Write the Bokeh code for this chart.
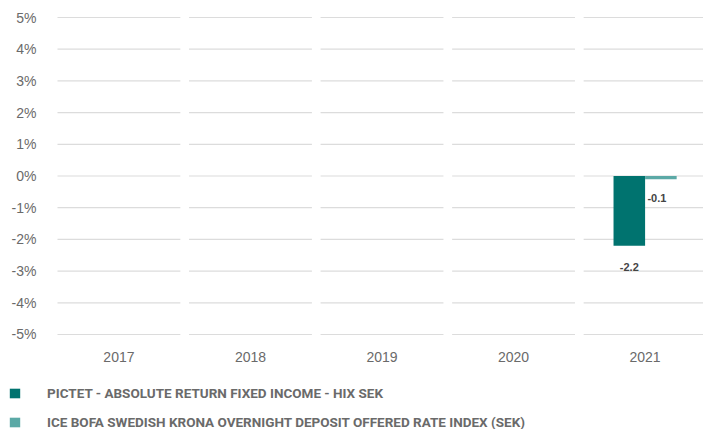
from bokeh.plotting import figure
from bokeh.layouts import column, row
from bokeh.models import ColumnDataSource, FixedTicker, Legend, LegendItem, Range1d
from bokeh.core.properties import value
from bokeh.embed import file_html
from bokeh.resources import INLINE

years = [2017, 2018, 2019, 2020, 2021]
year_labels = ["2017", "2018", "2019", "2020", "2021"]
fund_name = "PICTET - ABSOLUTE RETURN FIXED INCOME - HIX SEK"
bench_name = "ICE BOFA SWEDISH KRONA OVERNIGHT DEPOSIT OFFERED RATE INDEX (SEK)"
fund_values = [None, None, None, None, -2.2]
bench_values = [None, None, None, None, -0.1]
y_ticks = [-5, -4, -3, -2, -1, 0, 1, 2, 3, 4, 5]
y_tick_labels = ["-5%", "-4%", "-3%", "-2%", "-1%", "0%", "1%", "2%", "3%", "4%", "5%"]

DARK = "#00736f"
LIGHT = "#5ba9a6"
TEXT = "#6a6a6a"
GRID = "#dcdcdc"

p = figure(width=703, height=380, output_backend="svg", toolbar_location=None,
           x_range=Range1d(2016.495, 2021.444), y_range=Range1d(-5.19, 5.158),
           min_border_left=52, min_border_right=0, min_border_top=12, min_border_bottom=40)
p.outline_line_color = None
p.xgrid.visible = False
p.ygrid.visible = False

# segmented gridlines, one segment per category
gx0, gx1, gy = [], [], []
for yr in years:
    for t in y_ticks:
        gx0.append(yr - 0.467)
        gx1.append(yr + 0.467)
        gy.append(t)
p.segment(x0=gx0, x1=gx1, y0=gy, y1=gy, line_color=GRID, line_width=1.2)

def build(vals, off):
    xs, tops, labs = [], [], []
    for yr, v in zip(years, vals):
        if v is not None:
            xs.append(yr + off)
            tops.append(v)
            labs.append(f"{v:.1f}")
    return ColumnDataSource(dict(x=xs, top=tops, lab=labs))

s_fund = build(fund_values, -0.12)
s_bench = build(bench_values, 0.12)

p.vbar(x="x", top="top", bottom=0, width=0.24, source=s_fund, fill_color=DARK, line_color=None)
p.vbar(x="x", top="top", bottom=0, width=0.24, source=s_bench, fill_color=LIGHT, line_color=None)

for src, xo, yo in ((s_fund, 0, 21), (s_bench, -4, 19)):
    p.text(x="x", y="top", text="lab", source=src, x_offset=xo, y_offset=yo,
           text_align="center", text_baseline="middle", text_font=value("Liberation Sans"),
           text_font_style="bold", text_font_size="11px", text_color="#444444")

for ax in (p.xaxis[0], p.yaxis[0]):
    ax.axis_line_color = None
    ax.major_tick_line_color = None
    ax.minor_tick_line_color = None
    ax.major_label_text_color = TEXT
    ax.major_label_text_font = "Liberation Sans"
    ax.major_label_text_font_size = "14px"

p.xaxis.ticker = FixedTicker(ticks=years)
p.xaxis.major_label_overrides = {yr: lab for yr, lab in zip(years, year_labels)}
p.xaxis.major_label_standoff = 5
p.yaxis.ticker = FixedTicker(ticks=y_ticks)
p.yaxis.major_label_overrides = {t: lab for t, lab in zip(y_ticks, y_tick_labels)}
p.yaxis.major_label_standoff = 10

# legend strip (its bars sit outside its view; only the legend is visible)
lg = figure(width=703, height=49, output_backend="svg", toolbar_location=None,
            x_axis_location=None, y_axis_location=None, min_border=0,
            x_range=Range1d(0, 1), y_range=Range1d(0, 1))
lg.outline_line_color = None
lg.xgrid.visible = False
lg.ygrid.visible = False
lr_fund = lg.vbar(x="x", top="top", width=0.1, source=s_fund, fill_color=DARK, line_color=None)
lr_bench = lg.vbar(x="x", top="top", width=0.1, source=s_bench, fill_color=LIGHT, line_color=None)
legend = Legend(items=[LegendItem(label=fund_name, renderers=[lr_fund]),
                       LegendItem(label=bench_name, renderers=[lr_bench])],
                location=(8, -1), orientation="vertical",
                glyph_width=13, glyph_height=12, label_height=12, spacing=13,
                label_standoff=26, padding=0, margin=0,
                border_line_color=None, background_fill_alpha=0,
                label_text_font="Roboto", label_text_font_style="bold",
                label_text_font_size="13.5px", label_text_color=TEXT)
lg.add_layout(legend, "center")

open("out.html", "w").write(file_html(column(p, row(lg), spacing=0), INLINE))
